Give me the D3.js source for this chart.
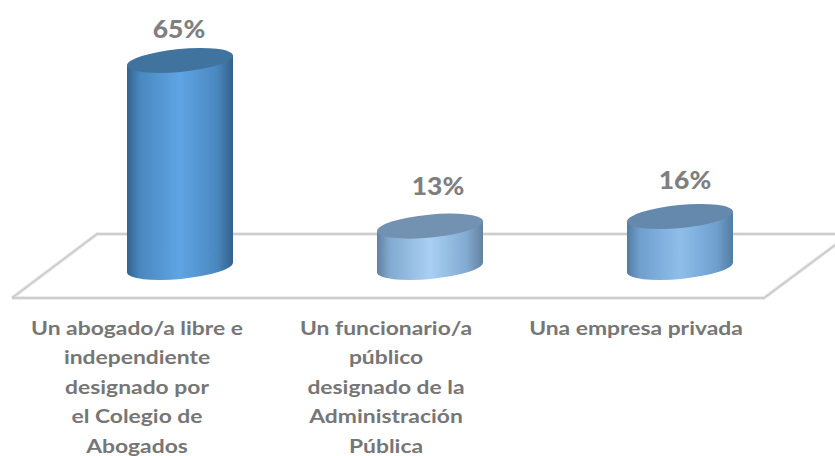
<!DOCTYPE html>
<html><head><meta charset="utf-8">
<script src="https://cdnjs.cloudflare.com/ajax/libs/d3/7.8.5/d3.min.js"></script>
<style>html,body{margin:0;padding:0;background:#fff}svg{display:block}</style>
</head><body><svg id="c" width="835" height="456"></svg>
<script>
const categories = ["cat0","cat1","cat2"];
const values = [65, 13, 16];
const valueLabels = ["65%","13%","16%"];
const categoryLines = [
  ["Un abogado/a libre e","independiente","designado por","el Colegio de","Abogados"],
  ["Un funcionario/a","público","designado de la","Administración","Pública"],
  ["Una empresa privada"]
];
const sideLight = ["#5fa5e4","#a9d0f4","#8fbeea"];
const sideDark = ["#33628c","#62819f","#527ca3"];
const sideMid = ["#4a87bf","#82a9cf","#6e9fcd"];
const topFill = ["#41739f","#7391b0","#6588ad"];
const labelDx = [-1, 8, 5];
const labelDy = [-23, -31.5, -27.5];
const catCx = [137, 386, 636];

const svg = d3.select("#c");
const x = d3.scaleBand().domain(categories).range([55,805]).paddingInner(0.576).paddingOuter(0.288);
const h = d3.scaleLinear().domain([0,65]).range([0,207]);
const rx = x.bandwidth()/2, ry = 11.5, tilt = -5.5, baseY = 267.5;

const defs = svg.append("defs");
categories.forEach((c,i)=>{
  const g = defs.append("linearGradient").attr("id","g"+i);
  [[0,sideDark[i]],[.12,sideMid[i]],[.5,sideLight[i]],[.85,sideMid[i]],[1,sideDark[i]]]
    .forEach(s=>g.append("stop").attr("offset",s[0]).attr("stop-color",s[1]));
});

// floor
const floor = d3.line()([[12,298],[97,234],[850,234],[764,298],[12,298]]);
svg.append("path").attr("d",floor).attr("fill","#fff").attr("stroke","#e6e6e6").attr("stroke-width",3.6);
svg.append("path").attr("d",floor).attr("fill","none").attr("stroke","#c6c6c6").attr("stroke-width",1.3);

// cylinders
const bars = svg.selectAll("g.bar").data(categories).join("g").attr("class","bar")
  .attr("transform",c=>`translate(${x(c)+rx},${baseY})`);
const dy = rx*Math.tan(tilt*Math.PI/180);
const rxT = rx/Math.cos(tilt*Math.PI/180);
bars.append("path").attr("fill",(c,i)=>`url(#g${i})`)
  .attr("d",(c,i)=>{
    const t=-h(values[i]);
    return `M${-rx},${-dy}L${-rx},${t-dy}L${rx},${t+dy}L${rx},${dy}`+
      `A${rxT},${ry} ${tilt} 0 1 ${-rx},${-dy}Z`;
  });
bars.append("ellipse").attr("cx",0).attr("rx",rxT).attr("ry",ry)
  .attr("cy",(c,i)=>-h(values[i]))
  .attr("transform",(c,i)=>`rotate(${tilt} 0 ${-h(values[i])})`)
  .attr("fill",(c,i)=>topFill[i]);

// value labels
bars.append("text").attr("text-anchor","middle")
  .attr("transform",(c,i)=>`translate(${labelDx[i]},${-h(values[i])+labelDy[i]}) scale(1.1,1)`)
  .attr("font-family","Lato, 'Open Sans', sans-serif").attr("font-weight",900).attr("font-size",24)
  .attr("fill","#7f7f7f").text((c,i)=>valueLabels[i]);

// category labels
svg.selectAll("g.lab").data(categories).join("g").attr("class","lab")
  .attr("transform",(c,i)=>`translate(${catCx[i]},0) scale(1.27,1)`)
  .each(function(c,i){
    d3.select(this).selectAll("text").data(categoryLines[i]).join("text")
      .attr("x",0).attr("y",(d,j)=>335+j*29.5).attr("text-anchor","middle")
      .attr("font-family","Lato, 'Open Sans', sans-serif").attr("font-weight",700).attr("font-size",18)
      .attr("fill","#767676").text(d=>d);
  });
</script></body></html>
